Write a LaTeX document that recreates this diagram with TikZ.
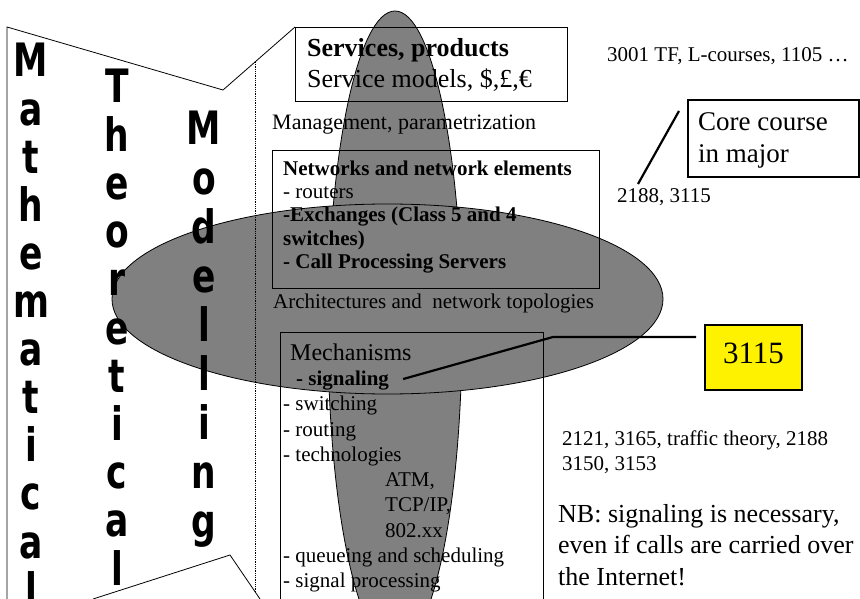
\documentclass[tikz,border=0pt]{standalone}
\usepackage{fontspec}
\setmainfont{Liberation Serif}
\newfontfamily\heavyfont{DejaVu Sans}[UprightFont={* Bold},FakeStretch=0.75]
\usepackage{tikz}

\tikzset{
  bigletter/.style={anchor=base, inner sep=0pt, font=\heavyfont\fontsize{46}{46}\selectfont},
  txt/.style={anchor=base west, inner sep=0pt, font=\fontsize{21}{23}\selectfont},
  boxframe/.style={draw, line width=0.8pt, anchor=north west, inner sep=0pt},
  blob/.style={draw, line width=0.8pt, fill=black!50},
  pointerline/.style={line width=2.2pt},
}

\begin{document}
\begin{tikzpicture}[x=1pt, y=-1pt]
    \useasboundingbox (0,0) rectangle (860,599);
    \clip (0,0) rectangle (860,599);

    % the two layers
    \draw[blob] (395,330) ellipse [x radius=67, y radius=319];
    \draw[blob] (387.5,299) ellipse [x radius=275.5, y radius=95];

    \node[boxframe, minimum width=272pt, minimum height=74pt]  (serv) at (295,27)  {};
    \node[boxframe, minimum width=327pt, minimum height=138pt] (net)  at (272,150) {};
    \node[boxframe, minimum width=263pt, minimum height=300pt] (mech) at (280,332) {};
    \node[boxframe, line width=1.6pt, minimum width=171pt, minimum height=77pt] (core) at (687,99) {};
    \node[boxframe, line width=1.6pt, fill=yellow, anchor=center, minimum width=97pt, minimum height=65pt,
          text depth=9pt, font=\fontsize{31}{31}\selectfont] (yel) at (753.5,357.5) {3115};

    % zoom frame
    \draw[line width=0.8pt] (7,599) -- (7,27) -- (223,90) -- (serv.north west);
    \draw[line width=0.8pt] (93,599) -- (230,555) -- (260,599);
    \draw[line width=0.8pt, densely dotted] (255,62) -- (255,592);

    \foreach \ch [count=\k from 0] in {M,a,t,h,e,m,a,t,i,c,a,l}
        \node[bigletter] (math\k) at (31,77+48.1*\k) {\ch};
    \foreach \ch [count=\k from 0] in {T,h,e,o,r,e,t,i,c,a,l}
        \node[bigletter] (theo\k) at (117,103+48.2*\k) {\ch};
    \foreach \ch [count=\k from 0] in {M,o,d,e,l,l,i,n,g}
        \node[bigletter] (model\k) at (204,145+49*\k) {\ch};

    \node[txt, font=\bfseries\fontsize{26}{30}\selectfont] (servt) at (307,57) {Services, products};
    \node[txt, font=\fontsize{26}{30}\selectfont]          (servm) at (307,88) {Service models, \$,£,€};
    \node[txt, font=\fontsize{22}{24}\selectfont]          (mgmt)  at (272,130) {Management, parametrization};

    \node[txt, font=\bfseries\fontsize{21}{23}\selectfont] (net1) at (283,176) {Networks and network elements};
    \node[txt] (net2) at (283,199) {- routers};
    \node[txt, font=\bfseries\fontsize{21}{23}\selectfont] (net3) at (283,222) {-Exchanges (Class 5 and 4};
    \node[txt, font=\bfseries\fontsize{21}{23}\selectfont] (net4) at (283,245) {switches)};
    \node[txt, font=\bfseries\fontsize{21}{23}\selectfont] (net5) at (283,268) {- Call Processing Servers};

    \node[txt] (arch) at (273,308) {Architectures and~ network topologies};

    \node[txt, font=\fontsize{24}{26}\selectfont] (mechh) at (290,360) {Mechanisms};
    \node[txt, font=\bfseries\fontsize{21}{23}\selectfont] (sig) at (296,385) {- signaling};
    \node[txt] (swi)  at (283,410) {- switching};
    \node[txt] (rou)  at (283,436) {- routing};
    \node[txt] (tech) at (283,461) {- technologies};
    \node[txt] (atm)  at (385,486) {ATM,};
    \node[txt] (tcp)  at (385,511) {TCP/IP,};
    \node[txt] (wlan) at (385,537) {802.xx};
    \node[txt] (que)  at (283,562) {- queueing and scheduling};
    \node[txt] (dsp)  at (283,587) {- signal processing};

    \node[txt] (first) at (607,62) {3001 TF, L-courses, 1105 …};
    \node[txt, font=\fontsize{27}{33}\selectfont] (core1) at (698,131) {Core course};
    \node[txt, font=\fontsize{27}{33}\selectfont] (core2) at (698,163) {in major};
    \node[txt] (c2188) at (617,203) {2188, 3115};
    \node[txt] (traf1) at (562,445) {2121, 3165, traffic theory, 2188};
    \node[txt] (traf2) at (562,470) {3150, 3153};
    \node[txt, font=\fontsize{26}{31}\selectfont] (nb1) at (558,522) {NB: signaling is necessary,};
    \node[txt, font=\fontsize{26}{31}\selectfont] (nb2) at (558,553) {even if calls are carried over};
    \node[txt, font=\fontsize{26}{31}\selectfont] (nb3) at (558,585) {the Internet!};

    % pointers
    \coordinate (corefoot) at (638,184);
    \coordinate (coretip)  at (679,111);
    \coordinate (sigbend)  at (553,337);
    \draw[pointerline] (corefoot) -- (coretip);
    \draw[pointerline, shorten >=8pt] ([xshift=14pt,yshift=1pt]sig.east) -- (sigbend) -- (sigbend -| yel.west);
\end{tikzpicture}
\end{document}
